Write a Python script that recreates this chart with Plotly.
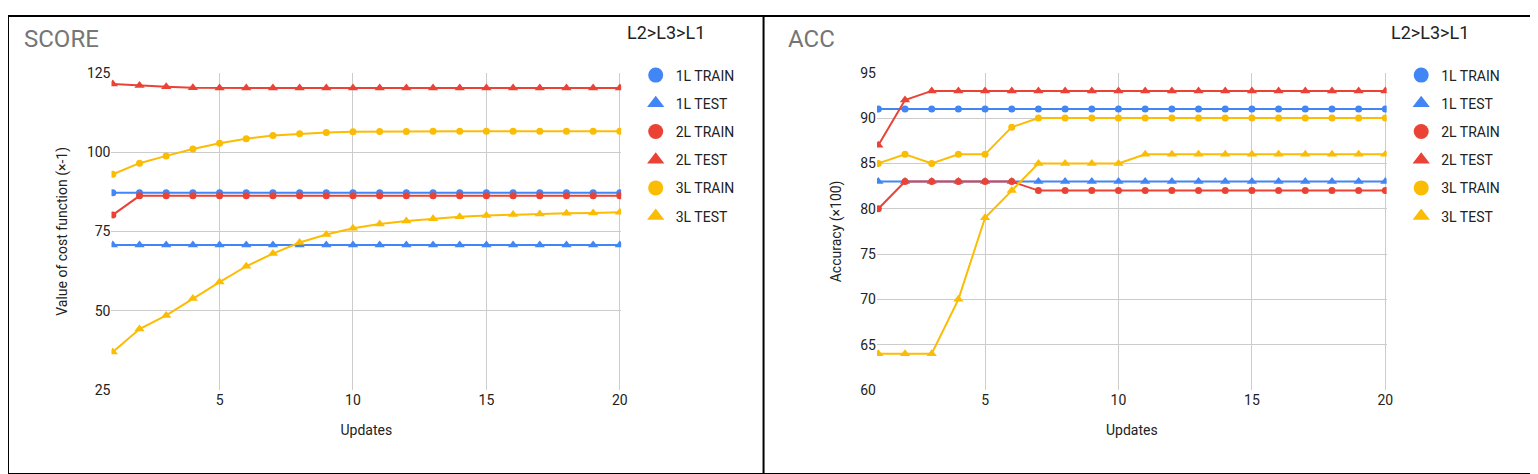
import plotly.graph_objects as go

updates = list(range(1, 21))

# SCORE panel
score_1l_train = [87.2] * 20
score_1l_test = [70.7] * 20
score_2l_train = [80.2] + [86.2] * 19
score_2l_test = [121.5, 121.0, 120.6, 120.3] + [120.2] * 16
score_3l_train = [93.0, 96.5, 98.8, 101.0, 102.8, 104.2, 105.2, 105.8, 106.2, 106.4,
                  106.5, 106.5, 106.6, 106.6, 106.6, 106.6, 106.6, 106.6, 106.6, 106.6]
score_3l_test = [37.0, 44.2, 48.5, 53.8, 59.0, 64.0, 68.0, 71.5, 74.0, 76.0,
                 77.3, 78.3, 79.0, 79.6, 80.0, 80.3, 80.5, 80.7, 80.8, 81.0]

# ACC panel
acc_1l_train = [91] * 20
acc_1l_test = [83] * 20
acc_2l_train = [80, 83, 83, 83, 83, 83] + [82] * 14
acc_2l_test = [87, 92] + [93] * 18
acc_3l_train = [85, 86, 85, 86, 86, 89] + [90] * 14
acc_3l_test = [64, 64, 64, 70, 79, 82, 85, 85, 85, 85] + [86] * 10

BLUE, RED, YELLOW = "#4285F4", "#EA4335", "#FBBC04"
names = ["1L TRAIN", "1L TEST", "2L TRAIN", "2L TEST", "3L TRAIN", "3L TEST"]
colors = [BLUE, BLUE, RED, RED, YELLOW, YELLOW]
symbols = ["circle", "triangle-up"] * 3

fig = go.Figure()

panels = [
    ([score_1l_train, score_1l_test, score_2l_train, score_2l_test, score_3l_train, score_3l_test],
     "x", "y", "legend"),
    ([acc_1l_train, acc_1l_test, acc_2l_train, acc_2l_test, acc_3l_train, acc_3l_test],
     "x2", "y2", "legend2"),
]
for series, xa, ya, leg in panels:
    for name, vals, c, s in zip(names, series, colors, symbols):
        fig.add_trace(go.Scatter(
            x=updates, y=vals, name=name, mode="lines+markers",
            line=dict(color=c, width=2), showlegend=False,
            marker=dict(color=c, symbol=s, size=7 if s == "circle" else 9),
            xaxis=xa, yaxis=ya))
        # legend-only entry (marker without line)
        fig.add_trace(go.Scatter(
            x=[None], y=[None], name=name, mode="markers",
            marker=dict(color=c, symbol=s, size=15),
            xaxis=xa, yaxis=ya, legend=leg, legendgroup=leg + name))

axfont = dict(family="Roboto, Arial", size=14, color="#222")
common_x = dict(range=[0.95, 20.05], tickvals=[5, 10, 15, 20], showgrid=True,
                gridcolor="#cccccc", zeroline=False, tickfont=axfont,
                title=dict(text="Updates", font=axfont, standoff=18))
common_y = dict(showgrid=True, gridcolor="#cccccc", zeroline=False, tickfont=axfont)

legend_style = dict(font=dict(family="Roboto, Arial", size=14, color="#222"),
                    tracegroupgap=7, bgcolor="rgba(0,0,0,0)",
                    yanchor="top", xanchor="left", y=0.905)

ydom = [0.1835, 0.876]
fig.update_layout(
    width=1538, height=474,
    margin=dict(l=0, r=0, t=0, b=0),
    plot_bgcolor="white", paper_bgcolor="white",
    xaxis=dict(domain=[0.0676, 0.4005], anchor="y", **common_x),
    yaxis=dict(domain=ydom, range=[25, 125], tickvals=[25, 50, 75, 100, 125],
               anchor="x", title=dict(text="Value of cost function (×-1)", font=axfont), **common_y),
    xaxis2=dict(domain=[0.5676, 0.9005], anchor="y2", **common_x),
    yaxis2=dict(domain=ydom, range=[60, 95], tickvals=list(range(60, 96, 5)),
                anchor="x2", title=dict(text="Accuracy (×100)", font=axfont), **common_y),
    legend=dict(x=0.41, **legend_style),
    legend2=dict(x=0.91, **legend_style),
    annotations=[
        dict(text="SCORE", x=0.009, y=0.95, xref="paper", yref="paper", showarrow=False,
             xanchor="left", yanchor="middle", font=dict(family="Roboto, Arial", size=24, color="#757575")),
        dict(text="ACC", x=0.508, y=0.95, xref="paper", yref="paper", showarrow=False,
             xanchor="left", yanchor="middle", font=dict(family="Roboto, Arial", size=24, color="#757575")),
        dict(text="L2>L3>L1", x=0.403, y=0.965, xref="paper", yref="paper", showarrow=False,
             xanchor="left", yanchor="middle", font=dict(family="Roboto, Arial", size=18, color="#222")),
        dict(text="L2>L3>L1", x=0.902, y=0.965, xref="paper", yref="paper", showarrow=False,
             xanchor="left", yanchor="middle", font=dict(family="Roboto, Arial", size=18, color="#222")),
    ],
    shapes=[
        dict(type="rect", xref="paper", yref="paper", x0=0, x1=1, y0=0, y1=1,
             line=dict(color="black", width=2)),
        dict(type="line", xref="paper", yref="paper", x0=0.4935, x1=0.4935, y0=0, y1=1,
             line=dict(color="black", width=2)),
    ],
)

fig.write_html("out.html")
